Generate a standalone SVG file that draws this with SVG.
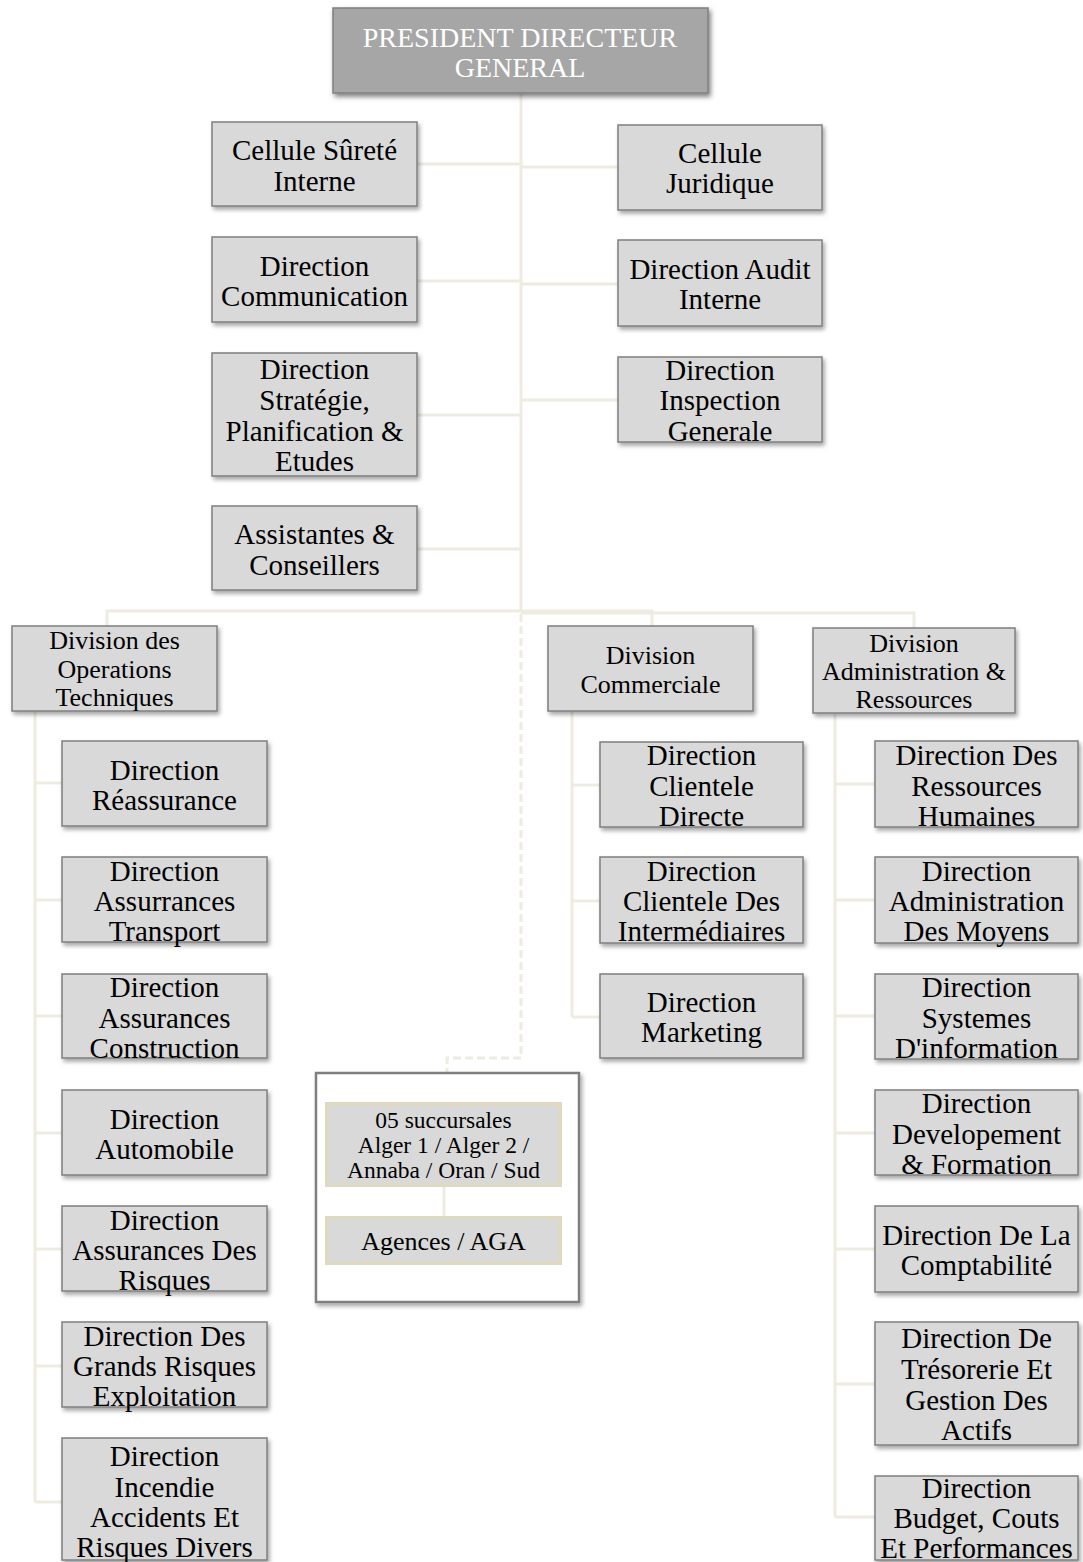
<svg xmlns="http://www.w3.org/2000/svg" width="1083" height="1562" viewBox="0 0 1083 1562">
  <style>
    .box { fill: #d9d9d9; stroke: #7f7f7f; stroke-width: 1.5; filter: url(#shadow); }
    .top { fill: #a6a6a6; stroke: #7f7f7f; stroke-width: 1.5; filter: url(#shadowDark); }
    .frame { fill: #ffffff; stroke: #7f7f7f; stroke-width: 2.5; filter: url(#shadow); }
    .inner { fill: #d9d9d9; stroke: #ddd9c3; stroke-width: 4; }
    .link { fill: none; stroke: #eeece1; stroke-width: 3; }
    .dash { fill: none; stroke: #eeece1; stroke-width: 3; stroke-dasharray: 8 4; }
    text { font-family: "Liberation Serif", "Times New Roman", serif; text-anchor: middle; fill: #000000; }
    .dir { font-size: 29px; }
    .div { font-size: 26px; }
    .br { font-size: 23.5px; }
    .ag { font-size: 26px; }
    .white { fill: #ffffff; font-size: 28px; }
  </style>
  <defs>
    <filter id="shadow" x="-10%" y="-10%" width="130%" height="130%">
      <feDropShadow dx="2" dy="3" stdDeviation="2" flood-color="#000000" flood-opacity="0.35"/>
    </filter>
    <filter id="shadowDark" x="-10%" y="-10%" width="130%" height="130%">
      <feDropShadow dx="2" dy="3" stdDeviation="2.5" flood-color="#000000" flood-opacity="0.5"/>
    </filter>
  </defs>

  <!-- connectors -->
  <g id="connectors">
    <!-- main trunk -->
    <path class="link" d="M521 93 V611"/>
    <!-- staff units, left -->
    <path class="link" d="M417 164 H521"/>
    <path class="link" d="M417 281 H521"/>
    <path class="link" d="M417 415 H521"/>
    <path class="link" d="M417 549 H521"/>
    <!-- staff units, right -->
    <path class="link" d="M521 167 H618"/>
    <path class="link" d="M521 284 H618"/>
    <path class="link" d="M521 400 H618"/>
    <!-- divisions -->
    <path class="link" d="M521 611 H107 V626"/>
    <path class="link" d="M521 611 H652 V626"/>
    <path class="link" d="M521 613 H914 V628"/>
    <!-- branch network (dashed) -->
    <path class="dash" d="M521 614 V1058 H447 V1073"/>
    <!-- technical operations -->
    <path class="link" d="M35 711 V1502"/>
    <path class="link" d="M35 783 H62"/>
    <path class="link" d="M35 900 H62"/>
    <path class="link" d="M35 1016 H62"/>
    <path class="link" d="M35 1133 H62"/>
    <path class="link" d="M35 1249 H62"/>
    <path class="link" d="M35 1366 H62"/>
    <path class="link" d="M35 1502 H62"/>
    <!-- commercial -->
    <path class="link" d="M572 711 V1017"/>
    <path class="link" d="M572 785 H600"/>
    <path class="link" d="M572 901 H600"/>
    <path class="link" d="M572 1017 H600"/>
    <!-- administration & resources -->
    <path class="link" d="M835 713 V1517"/>
    <path class="link" d="M835 784 H875"/>
    <path class="link" d="M835 900 H875"/>
    <path class="link" d="M835 1016 H875"/>
    <path class="link" d="M835 1133 H875"/>
    <path class="link" d="M835 1249 H875"/>
    <path class="link" d="M835 1384 H875"/>
    <path class="link" d="M835 1517 H875"/>
  </g>

  <!-- top -->
  <g id="pdg">
    <rect class="top" x="333" y="8" width="375" height="85"/>
    <text class="white" x="520" y="47">PRESIDENT DIRECTEUR</text>
    <text class="white" x="520" y="77">GENERAL</text>
  </g>

  <!-- staff units, left column -->
  <g id="surete">
    <rect class="box" x="212" y="122" width="205" height="84"/>
    <text class="dir" x="314.5" y="160">Cellule Sûreté</text>
    <text class="dir" x="314.5" y="191">Interne</text>
  </g>
  <g id="communication">
    <rect class="box" x="212" y="237" width="205" height="85"/>
    <text class="dir" x="314.5" y="276">Direction</text>
    <text class="dir" x="314.5" y="306">Communication</text>
  </g>
  <g id="strategie">
    <rect class="box" x="212" y="353" width="205" height="123"/>
    <text class="dir" x="314.5" y="379">Direction</text>
    <text class="dir" x="314.5" y="410">Stratégie,</text>
    <text class="dir" x="314.5" y="441">Planification &amp;</text>
    <text class="dir" x="314.5" y="471">Etudes</text>
  </g>
  <g id="assistantes">
    <rect class="box" x="212" y="506" width="205" height="84"/>
    <text class="dir" x="314.5" y="544">Assistantes &amp;</text>
    <text class="dir" x="314.5" y="575">Conseillers</text>
  </g>

  <!-- staff units, right column -->
  <g id="juridique">
    <rect class="box" x="618" y="125" width="204" height="85"/>
    <text class="dir" x="720" y="163">Cellule</text>
    <text class="dir" x="720" y="193">Juridique</text>
  </g>
  <g id="audit">
    <rect class="box" x="618" y="240" width="204" height="86"/>
    <text class="dir" x="720" y="279">Direction Audit</text>
    <text class="dir" x="720" y="309">Interne</text>
  </g>
  <g id="inspection">
    <rect class="box" x="618" y="357" width="204" height="85"/>
    <text class="dir" x="720" y="380">Direction</text>
    <text class="dir" x="720" y="410">Inspection</text>
    <text class="dir" x="720" y="441">Generale</text>
  </g>

  <!-- divisions -->
  <g id="div-operations">
    <rect class="box" x="12" y="626" width="205" height="85"/>
    <text class="div" x="114.5" y="649">Division des</text>
    <text class="div" x="114.5" y="678">Operations</text>
    <text class="div" x="114.5" y="706">Techniques</text>
  </g>
  <g id="div-commerciale">
    <rect class="box" x="548" y="626" width="205" height="85"/>
    <text class="div" x="650.5" y="664">Division</text>
    <text class="div" x="650.5" y="693">Commerciale</text>
  </g>
  <g id="div-administration">
    <rect class="box" x="813" y="628" width="202" height="85"/>
    <text class="div" x="914" y="652">Division</text>
    <text class="div" x="914" y="680">Administration &amp;</text>
    <text class="div" x="914" y="708">Ressources</text>
  </g>

  <!-- technical operations directorates -->
  <g id="reassurance">
    <rect class="box" x="62" y="741" width="205" height="85"/>
    <text class="dir" x="164.5" y="780">Direction</text>
    <text class="dir" x="164.5" y="810">Réassurance</text>
  </g>
  <g id="transport">
    <rect class="box" x="62" y="857" width="205" height="85"/>
    <text class="dir" x="164.5" y="881">Direction</text>
    <text class="dir" x="164.5" y="911">Assurrances</text>
    <text class="dir" x="164.5" y="941">Transport</text>
  </g>
  <g id="construction">
    <rect class="box" x="62" y="974" width="205" height="84"/>
    <text class="dir" x="164.5" y="997">Direction</text>
    <text class="dir" x="164.5" y="1028">Assurances</text>
    <text class="dir" x="164.5" y="1058">Construction</text>
  </g>
  <g id="automobile">
    <rect class="box" x="62" y="1090" width="205" height="85"/>
    <text class="dir" x="164.5" y="1129">Direction</text>
    <text class="dir" x="164.5" y="1159">Automobile</text>
  </g>
  <g id="risques">
    <rect class="box" x="62" y="1206" width="205" height="85"/>
    <text class="dir" x="164.5" y="1230">Direction</text>
    <text class="dir" x="164.5" y="1260">Assurances Des</text>
    <text class="dir" x="164.5" y="1290">Risques</text>
  </g>
  <g id="grands-risques">
    <rect class="box" x="62" y="1322" width="205" height="85"/>
    <text class="dir" x="164.5" y="1346">Direction Des</text>
    <text class="dir" x="164.5" y="1376">Grands Risques</text>
    <text class="dir" x="164.5" y="1406">Exploitation</text>
  </g>
  <g id="incendie">
    <rect class="box" x="62" y="1438" width="205" height="122"/>
    <text class="dir" x="164.5" y="1466">Direction</text>
    <text class="dir" x="164.5" y="1497">Incendie</text>
    <text class="dir" x="164.5" y="1527">Accidents Et</text>
    <text class="dir" x="164.5" y="1557">Risques Divers</text>
  </g>

  <!-- commercial directorates -->
  <g id="clientele-directe">
    <rect class="box" x="600" y="742" width="203" height="85"/>
    <text class="dir" x="701.5" y="765">Direction</text>
    <text class="dir" x="701.5" y="796">Clientele</text>
    <text class="dir" x="701.5" y="826">Directe</text>
  </g>
  <g id="intermediaires">
    <rect class="box" x="600" y="857" width="203" height="86"/>
    <text class="dir" x="701.5" y="881">Direction</text>
    <text class="dir" x="701.5" y="911">Clientele Des</text>
    <text class="dir" x="701.5" y="941">Intermédiaires</text>
  </g>
  <g id="marketing">
    <rect class="box" x="600" y="974" width="203" height="84"/>
    <text class="dir" x="701.5" y="1012">Direction</text>
    <text class="dir" x="701.5" y="1042">Marketing</text>
  </g>

  <!-- branch network -->
  <g id="reseau">
    <rect class="frame" x="316" y="1073" width="263" height="229"/>
    <path class="link" d="M444 1185 V1218"/>
    <rect class="inner" x="327" y="1104" width="233" height="81"/>
    <text class="br" x="443.5" y="1128">05 succursales</text>
    <text class="br" x="443.5" y="1153">Alger 1 / Alger 2 /</text>
    <text class="br" x="443.5" y="1178">Annaba / Oran / Sud</text>
    <rect class="inner" x="327" y="1218" width="233" height="45"/>
    <text class="ag" x="443.5" y="1250">Agences / AGA</text>
  </g>

  <!-- administration & resources directorates -->
  <g id="rh">
    <rect class="box" x="875" y="741" width="203" height="86"/>
    <text class="dir" x="976.5" y="765">Direction Des</text>
    <text class="dir" x="976.5" y="796">Ressources</text>
    <text class="dir" x="976.5" y="826">Humaines</text>
  </g>
  <g id="moyens">
    <rect class="box" x="875" y="857" width="203" height="86"/>
    <text class="dir" x="976.5" y="881">Direction</text>
    <text class="dir" x="976.5" y="911">Administration</text>
    <text class="dir" x="976.5" y="941">Des Moyens</text>
  </g>
  <g id="si">
    <rect class="box" x="875" y="974" width="203" height="85"/>
    <text class="dir" x="976.5" y="997">Direction</text>
    <text class="dir" x="976.5" y="1028">Systemes</text>
    <text class="dir" x="976.5" y="1058">D'information</text>
  </g>
  <g id="formation">
    <rect class="box" x="875" y="1090" width="203" height="85"/>
    <text class="dir" x="976.5" y="1113">Direction</text>
    <text class="dir" x="976.5" y="1144">Developement</text>
    <text class="dir" x="976.5" y="1174">&amp; Formation</text>
  </g>
  <g id="comptabilite">
    <rect class="box" x="875" y="1206" width="203" height="86"/>
    <text class="dir" x="976.5" y="1245">Direction De La</text>
    <text class="dir" x="976.5" y="1275">Comptabilité</text>
  </g>
  <g id="tresorerie">
    <rect class="box" x="875" y="1322" width="203" height="123"/>
    <text class="dir" x="976.5" y="1348">Direction De</text>
    <text class="dir" x="976.5" y="1379">Trésorerie Et</text>
    <text class="dir" x="976.5" y="1410">Gestion Des</text>
    <text class="dir" x="976.5" y="1440">Actifs</text>
  </g>
  <g id="budget">
    <rect class="box" x="875" y="1476" width="203" height="84"/>
    <text class="dir" x="976.5" y="1498">Direction</text>
    <text class="dir" x="976.5" y="1528">Budget, Couts</text>
    <text class="dir" x="976.5" y="1558">Et Performances</text>
  </g>
</svg>
